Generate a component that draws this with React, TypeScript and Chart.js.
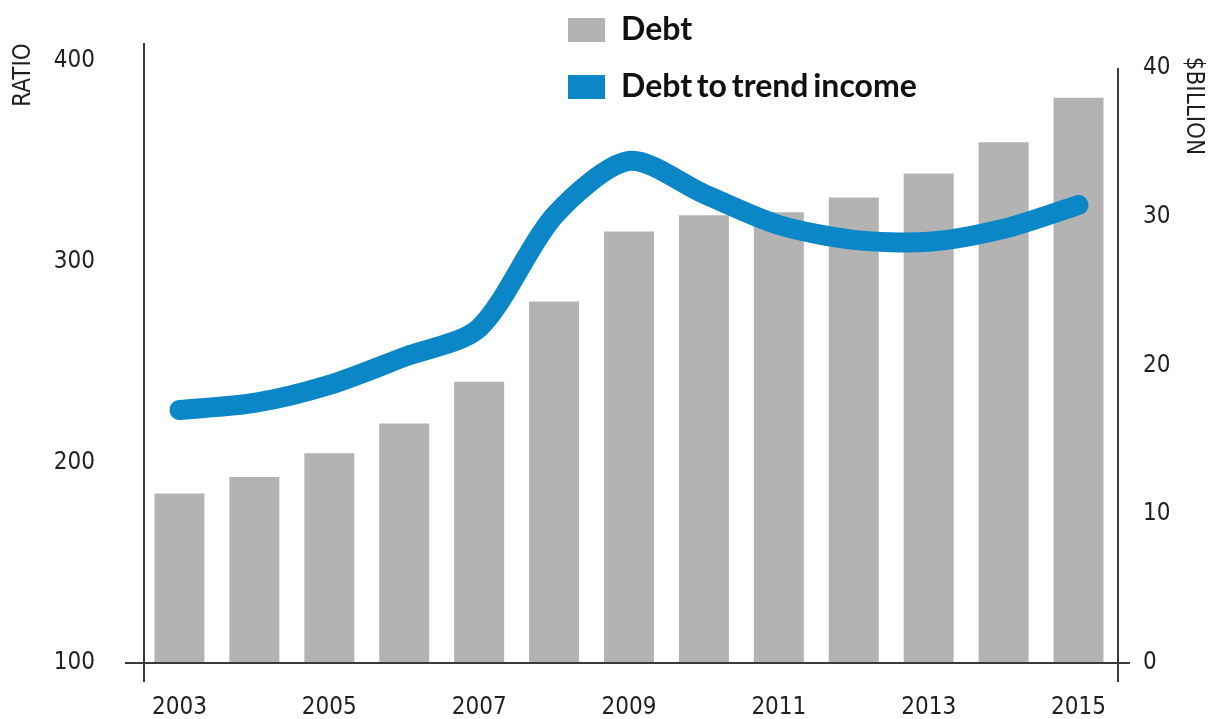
import React, { useEffect, useRef } from 'react';
import { Chart, registerables } from 'chart.js';

Chart.register(...registerables);

const years = ['2003', '2004', '2005', '2006', '2007', '2008', '2009', '2010', '2011', '2012', '2013', '2014', '2015'];
const debtBillion = [11.4, 12.5, 14.1, 16.1, 18.9, 24.3, 29.0, 30.1, 30.3, 31.3, 32.9, 35.0, 38.0];
const debtToTrendIncome = [226.1, 229.6, 238.6, 252.5, 267.0, 322.8, 350.2, 333.8, 318.3, 310.9, 309.9, 316.4, 328.3];
const ratioTicks = [100, 200, 300, 400];
const billionTicks = [0, 10, 20, 30, 40];
const legendLabels = ['Debt', 'Debt to trend income'];
const axisTitles = ['RATIO', '$BILLION'];

const GRAY = '#b3b3b3';
const BLUE = '#0b87c8';
const INK = '#231f20';
const AXIS = '#3a3a3a';
const TICK_FONT = '"DejaVu Sans Condensed", "Liberation Sans Narrow", "Roboto Condensed", sans-serif';
const LEGEND_FONT = 'Lato, "Liberation Sans", sans-serif';

const zeroPad = (s: any) => {
  s.paddingTop = 0;
  s.paddingBottom = 0;
  s.paddingLeft = 0;
  s.paddingRight = 0;
};

const decorPlugin = {
  id: 'decor',
  afterDatasetsDraw(chart: any) {
    const { ctx, chartArea, scales } = chart;
    const yR = scales.yR;
    ctx.save();
    ctx.strokeStyle = AXIS;
    ctx.lineWidth = 2;
    ctx.beginPath();
    ctx.moveTo(chartArea.left + 2, chartArea.top);
    ctx.lineTo(chartArea.left + 2, chartArea.bottom + 19);
    ctx.moveTo(chartArea.right + 2, yR.getPixelForValue(billionTicks[billionTicks.length - 1]));
    ctx.lineTo(chartArea.right + 2, chartArea.bottom + 19);
    ctx.moveTo(chartArea.left - 17, chartArea.bottom);
    ctx.lineTo(chartArea.right + 14, chartArea.bottom);
    ctx.stroke();
    ctx.restore();
  },
  afterDraw(chart: any) {
    const { ctx } = chart;
    ctx.save();
    ctx.fillStyle = INK;
    ctx.font = `24px ${TICK_FONT}`;
    ctx.textAlign = 'center';
    ctx.textBaseline = 'middle';
    ctx.save();
    ctx.translate(24, 75);
    ctx.rotate(-Math.PI / 2);
    ctx.fillText(axisTitles[0], 0, 0);
    ctx.restore();
    ctx.save();
    ctx.translate(1193, 106);
    ctx.rotate(Math.PI / 2);
    ctx.fillText(axisTitles[1], 0, 0);
    ctx.restore();

    ctx.fillStyle = GRAY;
    ctx.fillRect(568, 18, 37, 24);
    ctx.fillStyle = BLUE;
    ctx.fillRect(568, 75, 37, 24);
    ctx.fillStyle = '#111';
    ctx.font = `bold 32px ${LEGEND_FONT}`;
    ctx.textAlign = 'left';
    ctx.textBaseline = 'alphabetic';
    try {
      (ctx as any).wordSpacing = '-3px';
    } catch (e) {}
    ctx.fillText(legendLabels[0], 621, 40);
    ctx.fillText(legendLabels[1], 621, 97);
    ctx.restore();
  },
};

export default function App() {
  const canvasRef = useRef<HTMLCanvasElement | null>(null);

  useEffect(() => {
    const canvas = canvasRef.current;
    if (!canvas) return;
    const chart = new Chart(canvas, {
      type: 'bar',
      data: {
        labels: years,
        datasets: [
          {
            type: 'line',
            label: legendLabels[1],
            data: debtToTrendIncome,
            yAxisID: 'yL',
            borderColor: BLUE,
            backgroundColor: BLUE,
            borderWidth: 20,
            borderCapStyle: 'round',
            borderJoinStyle: 'round',
            pointRadius: 0,
            tension: 0.28,
            fill: false,
            order: 0,
            clip: false,
          } as any,
          {
            type: 'bar',
            label: legendLabels[0],
            data: debtBillion,
            yAxisID: 'yR',
            backgroundColor: GRAY,
            borderWidth: 0,
            barPercentage: 0.667,
            categoryPercentage: 1,
            order: 1,
          } as any,
        ],
      },
      options: {
        animation: false,
        responsive: true,
        maintainAspectRatio: false,
        layout: { padding: { top: 43, left: 0, right: 0, bottom: 0 } },
        plugins: {
          legend: { display: false },
          tooltip: { enabled: false },
          title: { display: false },
        },
        scales: {
          x: {
            type: 'category',
            offset: true,
            grid: { display: false, drawTicks: false },
            border: { display: false },
            ticks: {
              autoSkip: false,
              maxRotation: 0,
              minRotation: 0,
              padding: 30,
              color: INK,
              font: { family: TICK_FONT, size: 24 },
              callback: (_v: any, i: number) => (i % 2 === 0 ? years[i] : ''),
            },
            afterFit: (s: any) => {
              s.height = 56;
              zeroPad(s);
            },
          },
          yL: {
            type: 'linear',
            position: 'left',
            min: 100,
            max: 409,
            grid: { display: false, drawTicks: false },
            border: { display: false },
            ticks: {
              stepSize: 100,
              padding: 47,
              color: INK,
              font: { family: TICK_FONT, size: 24 },
            },
            afterBuildTicks: (s: any) => {
              s.ticks = ratioTicks.map((v) => ({ value: v }));
            },
            afterFit: (s: any) => {
              s.width = 142;
              zeroPad(s);
            },
          },
          yR: {
            type: 'linear',
            position: 'right',
            min: 0,
            max: 41.68,
            grid: { display: false, drawTicks: false },
            border: { display: false },
            ticks: {
              stepSize: 10,
              padding: 27,
              color: INK,
              font: { family: TICK_FONT, size: 24 },
            },
            afterBuildTicks: (s: any) => {
              s.ticks = billionTicks.map((v) => ({ value: v }));
            },
            afterFit: (s: any) => {
              s.width = 99;
              zeroPad(s);
            },
          },
        },
      } as any,
      plugins: [decorPlugin],
    });
    return () => chart.destroy();
  }, []);

  return (
    <div style={{ position: 'absolute', left: 0, top: 0, width: 1215, height: 719, background: '#fff' }}>
      <canvas ref={canvasRef} />
    </div>
  );
}
